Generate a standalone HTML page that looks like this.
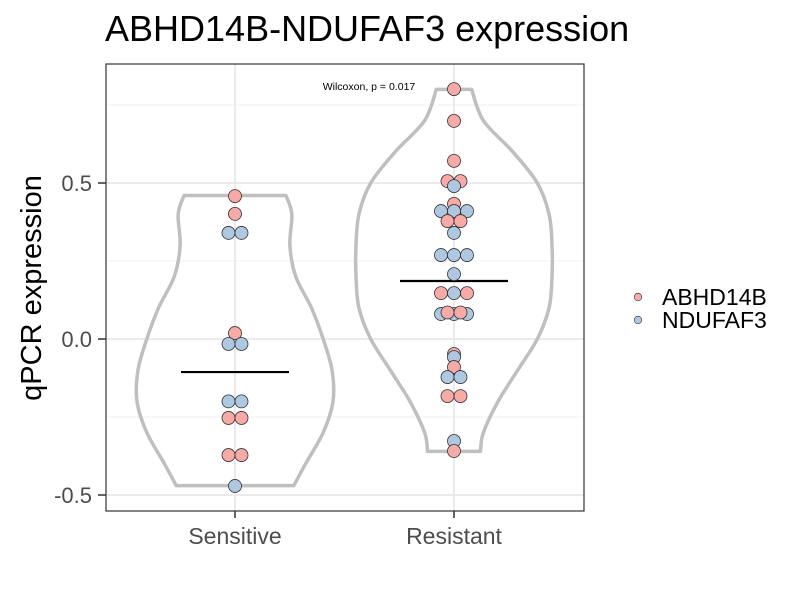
<!DOCTYPE html>
<html><head><meta charset="utf-8"><style>
body{margin:0;background:#fff}
svg{display:block;font-family:"Liberation Sans",Arial,sans-serif}
</style></head><body>
<svg id="c" width="800" height="600" viewBox="0 0 800 600">
<text x="105" y="41" font-size="36" fill="#000">ABHD14B-NDUFAF3 expression</text>
<text transform="translate(41,288) rotate(-90)" text-anchor="middle" font-size="29" fill="#000">qPCR expression</text>
<g id="grid"></g>
<g id="violins"></g>
<g id="pts"></g>
<g id="axes"></g>
<text x="369" y="90" text-anchor="middle" font-size="10.5" fill="#000">Wilcoxon, p = 0.017</text>
<g>
<circle cx="638" cy="297" r="3.8" fill="#f8aaa6" stroke="#333" stroke-width="0.6"/>
<text x="662" y="305" font-size="23">ABHD14B</text>
<circle cx="638" cy="320" r="3.8" fill="#aec8e2" stroke="#333" stroke-width="0.6"/>
<text x="662" y="328" font-size="23">NDUFAF3</text>
</g>
</svg>
<script>
const categories = ["Sensitive","Resistant"];
const yTicks = [-0.5, 0.0, 0.5];
const yTickLabels = ["-0.5","0.0","0.5"];
const yMinor = [-0.25, 0.25, 0.75];
const sensValues = [0.458,0.401,0.34,0.34,0.019,-0.016,-0.016,-0.20,-0.20,-0.253,-0.253,-0.372,-0.372,-0.471];
const sensGenes  = ["A","A","N","N","A","N","N","N","N","A","A","A","A","N"];
const resValues = [0.801,0.699,0.571,0.506,0.506,0.49,0.433,0.41,0.41,0.41,0.378,0.378,0.34,0.269,0.269,0.269,0.208,0.147,0.147,0.147,0.08,0.08,0.08,0.085,0.085,-0.048,-0.058,-0.09,-0.122,-0.122,-0.183,-0.183,-0.327,-0.359];
const resGenes  = ["A","A","A","A","A","N","A","N","N","N","A","A","N","N","N","N","N","A","N","A","N","N","N","A","A","A","N","A","N","N","A","A","N","A"];
const medians = [-0.106, 0.186];
const sensViolinY = [0.46,0.40,0.30,0.20,0.10,0.0,-0.10,-0.20,-0.30,-0.40,-0.47];
const sensViolinW = [0.52,0.58,0.56,0.62,0.78,0.90,0.99,1.0,0.90,0.72,0.60];
const resViolinY = [0.80,0.70,0.60,0.50,0.40,0.30,0.20,0.10,0.0,-0.10,-0.20,-0.30,-0.36];
const resViolinW = [0.18,0.30,0.60,0.85,0.97,1.0,1.0,0.97,0.85,0.65,0.45,0.30,0.27];

const NS="http://www.w3.org/2000/svg";
const L=106,R=584,T=64,B=511;
const y=v=>339-v*312;
const x=i=>[235,454][i];
const maxHalf=98;
function mk(tag,attrs,parent){const e=document.createElementNS(NS,tag);for(const k in attrs)e.setAttribute(k,attrs[k]);parent.appendChild(e);return e;}
const grid=document.getElementById('grid');
mk('rect',{x:L,y:T,width:R-L,height:B-T,fill:'#fff'},grid);
yMinor.forEach(v=>{const l=mk('line',{x1:L,x2:R,y1:y(v),y2:y(v),stroke:'#f0f0f0','stroke-width':1},grid);

});
yTicks.forEach(v=>{const l=mk('line',{x1:L,x2:R,y1:y(v),y2:y(v),stroke:'#ebebeb','stroke-width':2},grid);

});
categories.forEach((c,i)=>{const l=mk('line',{x1:x(i),x2:x(i),y1:T,y2:B,stroke:'#ebebeb','stroke-width':2},grid);

});

const vg=document.getElementById('violins');
function violin(i,ys,ws,name){
  const pts=ys.map((v,k)=>[x(i)+ws[k]*maxHalf,y(v)]);
  const left=ys.map((v,k)=>[x(i)-ws[k]*maxHalf,y(v)]).reverse();
  function smooth(p){let d='';for(let k=0;k<p.length-1;k++){const p0=p[k-1]||p[k],p1=p[k],p2=p[k+1],p3=p[k+2]||p2;
    const c1=[p1[0]+(p2[0]-p0[0])/6,p1[1]+(p2[1]-p0[1])/6],c2=[p2[0]-(p3[0]-p1[0])/6,p2[1]-(p3[1]-p1[1])/6];
    d+=` C${c1} ${c2} ${p2}`;}return d;}
  let d=`M${left[left.length-1]} L${pts[0]}`+smooth(pts)+` L${left[0]}`+smooth(left)+' Z';
  const p=mk('path',{d:d,fill:'none',stroke:'#bfbfbf','stroke-width':3.5,'stroke-linejoin':'round'},vg);
  
  
}
violin(0,sensViolinY,sensViolinW,'violin-sensitive');
violin(1,resViolinY,resViolinW,'violin-resistant');
medians.forEach((m,i)=>{const l=mk('line',{x1:x(i)-54,x2:x(i)+54,y1:y(m),y2:y(m),stroke:'#000','stroke-width':2.2},vg);

});

const pg=document.getElementById('pts');
function drawPts(i,vals,genes){
  const used=vals.map(()=>false);
  const order=[];
  vals.forEach((v,k)=>{if(used[k])return;const grp=[];vals.forEach((w,j)=>{if(!used[j]&&Math.abs(w-v)<0.004){used[j]=true;grp.push(j);}});order.push(grp);});
  order.forEach(grp=>{grp.forEach((j,n)=>{const off=(n-(grp.length-1)/2)*13;
    const c=mk('circle',{cx:x(i)+off,cy:y(vals[j]),r:6.5,fill:genes[j]=='A'?'#f8aaa6':'#aec8e2',stroke:'#333','stroke-width':0.8},pg);
    
    });});
}
drawPts(0,sensValues,sensGenes);
drawPts(1,resValues,resGenes);

const ax=document.getElementById('axes');
mk('rect',{x:L,y:T,width:R-L,height:B-T,fill:'none',stroke:'#333','stroke-width':1.2},ax);
yTicks.forEach((v,k)=>{mk('line',{x1:L-8,x2:L,y1:y(v),y2:y(v),stroke:'#333','stroke-width':1.5},ax);
const t=mk('text',{x:L-14,y:y(v)+8,'text-anchor':'end','font-size':22,fill:'#4d4d4d'},ax);t.textContent=yTickLabels[k];

});
categories.forEach((c,i)=>{mk('line',{x1:x(i),x2:x(i),y1:B,y2:B+7,stroke:'#333','stroke-width':1.5},ax);
const t=mk('text',{x:x(i),y:B+33,'text-anchor':'middle','font-size':23,fill:'#4d4d4d'},ax);t.textContent=c;

});
</script>
</body></html>
